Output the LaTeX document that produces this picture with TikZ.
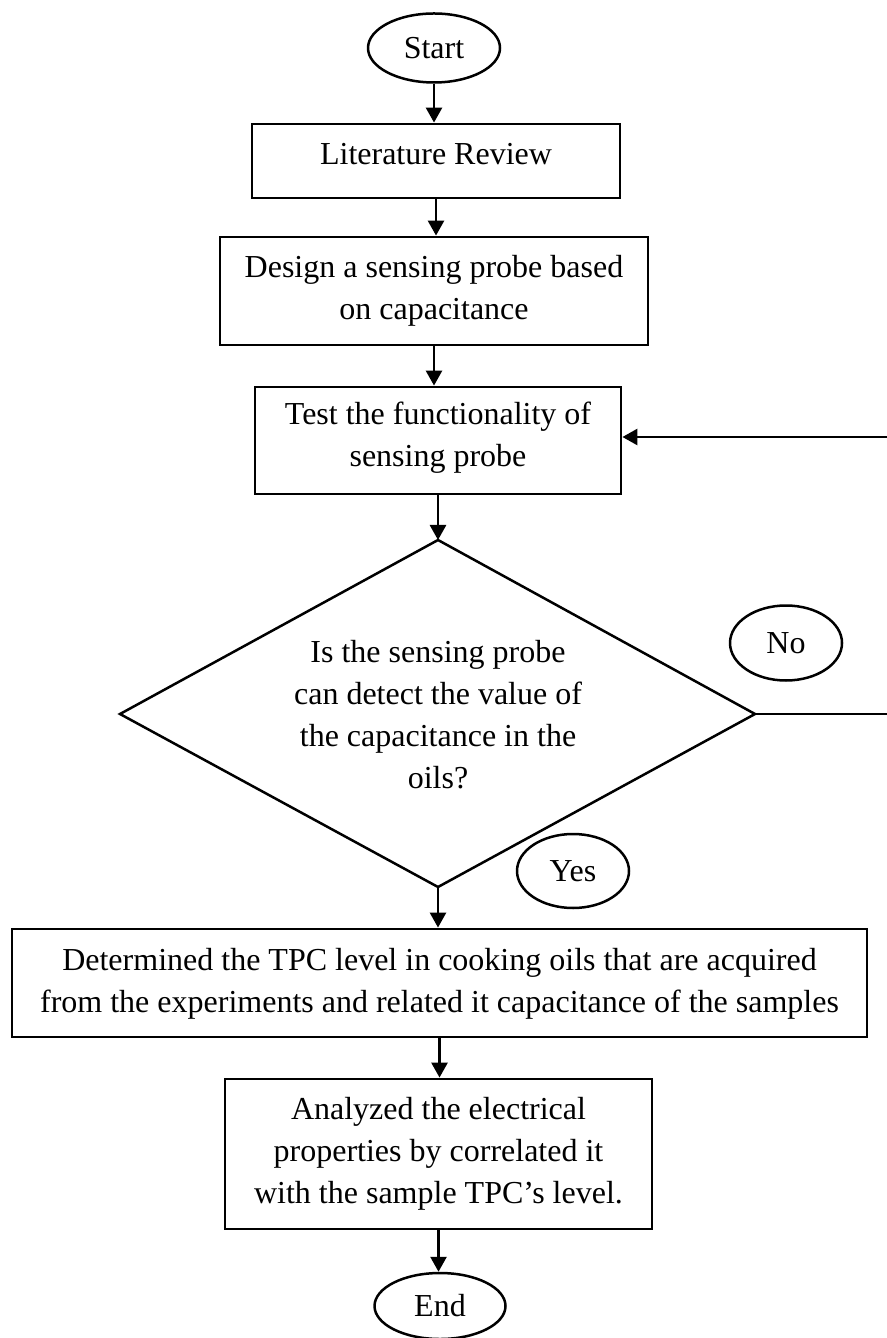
\documentclass[tikz,border=0pt]{standalone}
\usepackage{fontspec}
\setmainfont{Liberation Serif}
\usetikzlibrary{arrows.meta,shapes.geometric,calc}
\begin{document}
\begin{tikzpicture}[x=0.3pt,y=-0.3pt,
  every node/.style={font=\fontsize{9.6pt}{12.6pt}\selectfont},
  line/.style={line width=0.75pt},
  arr/.style={line width=0.8pt,-{Triangle[length=4.5pt,width=4.8pt]}},
  boxshape/.style={draw,line width=0.85pt,rectangle,inner sep=0pt},
  oval/.style={draw,line width=0.75pt,ellipse,inner sep=0pt},
  txt/.style={align=center,anchor=base,inner sep=0pt}]
\useasboundingbox (0,0) rectangle (886,1338);

% terminals
\node[oval,minimum width=39.6pt,minimum height=20.7pt] (start) at (434,48) {Start};
\node[oval,minimum width=39.3pt,minimum height=19.8pt] (end) at (440,1306) {End};
\node[oval,minimum width=33.6pt,minimum height=22.5pt] (no) at (786,643) {No};
\node[oval,minimum width=33.6pt,minimum height=22.2pt] (yes) at (573,871) {Yes};

% boxes (text nodes anchored at the baseline of their last line)
\node[boxshape,minimum width=110.4pt,minimum height=22.2pt] (lit) at (436,161) {};
\node[txt] (litt) at (436,165) {Literature Review};

\node[boxshape,minimum width=128.4pt,minimum height=32.4pt] (design) at (434,291) {};
\node[txt] (designt) at (434,320) {Design a sensing probe based\\on capacitance};

\node[boxshape,minimum width=109.8pt,minimum height=32.1pt] (test) at (438,440.5) {};
\node[txt] (testt) at (438,467) {Test the functionality of\\sensing probe};

\node[boxshape,minimum width=256.5pt,minimum height=32.4pt] (det) at (439.5,983) {};
\node[txt] (dett) at (439.5,1012) {Determined the TPC level in cooking oils that are acquired\\from the experiments and related it capacitance of the samples};

\node[boxshape,minimum width=128.1pt,minimum height=45pt] (ana) at (438.5,1154) {};
\node[txt] (anat) at (438.5,1203) {Analyzed the electrical\\properties by correlated it\\with the sample TPC’s level.};

% decision
\coordinate (dT) at (438,540);
\coordinate (dL) at (120,714);
\coordinate (dR) at (755,714);
\coordinate (dB) at (438,887);
\draw[line] (dT) -- (dR) -- (dB) -- (dL) -- cycle;
\node[txt] (q) at (438,788) {Is the sensing probe\\can detect the value of\\the capacitance in the\\oils?};

% feedback corner points (just outside the picture's right edge)
\coordinate (c1) at (891,714);
\coordinate (c2) at (891,437);

% connectors
\draw[arr] (start.south) -- (start.south |- lit.north);
\draw[arr] (lit.south) -- (lit.south |- design.north);
\draw[arr] (design.south) -- (design.south |- test.north);
\draw[arr] (test.south) -- (dT);
\draw[arr] (dB) -- (dB |- det.north);
\draw[arr] (det.south) -- (det.south |- ana.north);
\draw[arr] (ana.south) -- (ana.south |- end.north);
\draw[arr] (dR) -- (c1) -- (c2) -- (c2 -| test.east);
\end{tikzpicture}
\end{document}
